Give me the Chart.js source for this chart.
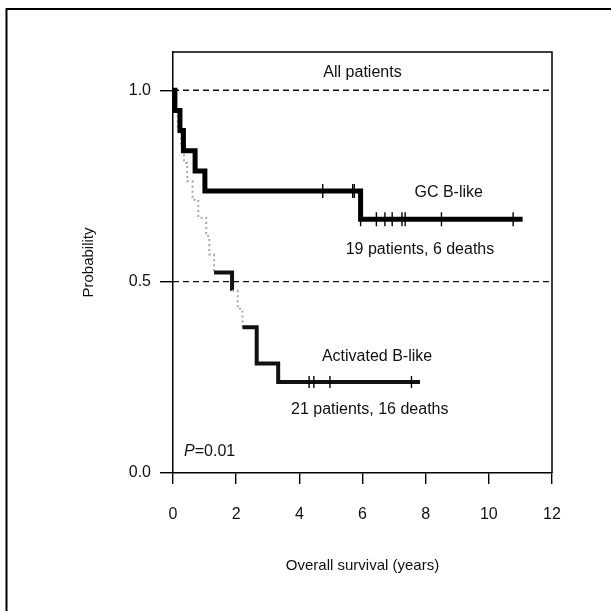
<!DOCTYPE html>
<html>
<head>
<meta charset="utf-8">
<script src="https://cdn.jsdelivr.net/npm/chart.js@4/dist/chart.umd.min.js"></script>
<style>
  html, body { margin: 0; padding: 0; background: #fff; }
  #wrap { width: 611px; height: 611px; }
</style>
</head>
<body>
<div id="wrap"><canvas id="km"></canvas></div>
<script>
const FONT = '"Liberation Sans", Arial, Helvetica, sans-serif'

// x ticks / y ticks
const X_TICKS = [0, 2, 4, 6, 8, 10, 12]
const Y_TICKS = [0, 0.5, 1.0]

// GC B-like: step times (years) and survival after each step
const gcTimes = [0, 0.06, 0.22, 0.33, 0.70, 1.01, 5.94, 11.07]
const gcSurv = [1, 0.947, 0.895, 0.842, 0.789, 0.737, 0.663, 0.663]
const gcCensorTimes = [4.74, 5.69, 5.74, 5.94, 6.44, 6.71, 6.94, 7.25, 7.35, 8.50, 10.77]
const gcCensorSurv = [0.737, 0.737, 0.737, 0.663, 0.663, 0.663, 0.663, 0.663, 0.663, 0.663, 0.663]

// Activated B-like
const abTimes = [0, 0.08, 0.15, 0.25, 0.35, 0.45, 0.62, 0.80, 1.05, 1.15, 1.30, 1.87, 2.05, 2.20, 2.65, 3.33, 7.82]
const abSurv = [1, 0.952, 0.905, 0.857, 0.810, 0.762, 0.714, 0.667, 0.619, 0.571, 0.524, 0.476, 0.429, 0.381, 0.286, 0.238, 0.238]
const abCensorTimes = [4.31, 4.46, 4.97, 7.55]
const abCensorSurv = [0.238, 0.238, 0.238, 0.238]

// reference lines
const refLevels = [0.5, 1.0]

// text notes in data units
const notes = [
  { text: "All patients", x: 6.0, y: 1.047 },
  { text: "GC B-like", x: 8.73, y: 0.733 },
  { text: "19 patients, 6 deaths", x: 7.82, y: 0.584 },
  { text: "Activated B-like", x: 6.46, y: 0.304 },
  { text: "21 patients, 16 deaths", x: 6.23, y: 0.165 },
]
const pNote = { label: "P", value: "=0.01", x: 0.35, y: 0.055 }

const toPoints = (xs, ys) => xs.map((x, i) => ({ x: x, y: ys[i] }))

const datasets = []

refLevels.forEach(level => {
  datasets.push({
    data: [{ x: 0, y: level }, { x: 12, y: level }],
    borderColor: "#111",
    borderWidth: 1.3,
    borderDash: [6, 4],
    pointRadius: 0,
    order: 5,
  })
})

// early part of this curve is a light dotted trace in the figure
const isEarly = ctx => ctx.p0.parsed.x < 1.2 || (ctx.p0.parsed.x > 1.8 && ctx.p0.parsed.x < 2.1)

datasets.push({
  label: "Activated B-like",
  data: toPoints(abTimes, abSurv),
  stepped: "before",
  borderColor: "#111",
  borderWidth: 4,
  pointRadius: 0,
  order: 3,
  segment: {
    borderColor: ctx => (isEarly(ctx) ? "#a8a8a8" : "#111"),
    borderDash: ctx => (isEarly(ctx) ? [2, 3] : undefined),
    borderWidth: ctx => (isEarly(ctx) ? 2 : 4),
  },
})

datasets.push({
  label: "GC B-like",
  data: toPoints(gcTimes, gcSurv),
  stepped: "before",
  borderColor: "#000",
  borderWidth: 5,
  pointRadius: 0,
  order: 2,
})

datasets.push({
  data: toPoints(gcCensorTimes, gcCensorSurv),
  showLine: false,
  pointStyle: "line",
  rotation: 90,
  pointRadius: 7,
  pointBorderWidth: 1.4,
  pointBorderColor: "#000",
  order: 1,
})

datasets.push({
  data: toPoints(abCensorTimes, abCensorSurv),
  showLine: false,
  pointStyle: "line",
  rotation: 90,
  pointRadius: 6,
  pointBorderWidth: 1.4,
  pointBorderColor: "#000",
  order: 1,
})

const framePlugin = {
  id: "frame",
  beforeDraw(chart) {
    const ctx = chart.ctx
    ctx.save()
    ctx.fillStyle = "#fff"
    ctx.fillRect(0, 0, chart.width, chart.height)
    ctx.strokeStyle = "#000"
    ctx.lineWidth = 2
    ctx.beginPath()
    ctx.moveTo(6.5, chart.height)
    ctx.lineTo(6.5, 9)
    ctx.lineTo(chart.width, 9)
    ctx.stroke()
    ctx.restore()
  },
  afterDraw(chart) {
    const ctx = chart.ctx
    const a = chart.chartArea
    const xs = chart.scales.x
    const ys = chart.scales.y
    ctx.save()
    ctx.strokeStyle = "#000"
    ctx.lineWidth = 1.5
    ctx.beginPath()
    ctx.moveTo(a.left, a.top)
    ctx.lineTo(a.right, a.top)
    ctx.lineTo(a.right, a.bottom)
    ctx.stroke()

    ctx.fillStyle = "#111"
    ctx.font = "16px " + FONT
    ctx.textAlign = "center"
    ctx.textBaseline = "middle"
    notes.forEach(n => {
      ctx.fillText(n.text, xs.getPixelForValue(n.x), ys.getPixelForValue(n.y))
    })

    // P value with italic P
    let px = xs.getPixelForValue(pNote.x)
    const py = ys.getPixelForValue(pNote.y)
    ctx.textAlign = "left"
    ctx.font = "italic 16px " + FONT
    ctx.fillText(pNote.label, px, py)
    px += ctx.measureText(pNote.label).width
    ctx.font = "16px " + FONT
    ctx.fillText(pNote.value, px, py)
    ctx.restore()
  },
}

new Chart(document.getElementById("km"), {
  type: "line",
  data: { datasets: datasets },
  plugins: [framePlugin],
  options: {
    responsive: true,
    maintainAspectRatio: false,
    animation: false,
    layout: { padding: { left: 0, top: 52, right: 59, bottom: 36 } },
    plugins: {
      legend: { display: false },
      tooltip: { enabled: false },
    },
    scales: {
      x: {
        type: "linear",
        min: 0,
        max: 12,
        afterFit: scale => {
          scale.height = 102
        },
        afterBuildTicks: scale => {
          scale.ticks = X_TICKS.map(v => ({ value: v }))
        },
        grid: {
          drawOnChartArea: false,
          drawTicks: true,
          tickLength: 11,
          color: "#000",
          lineWidth: 1.4,
        },
        border: { display: true, color: "#000", width: 1.5 },
        ticks: {
          color: "#111",
          font: { family: FONT, size: 16 },
          padding: 21,
          maxRotation: 0,
        },
        title: {
          display: true,
          text: "Overall survival (years)",
          color: "#111",
          font: { family: FONT, size: 15 },
          padding: { top: 0, bottom: 0 },
        },
      },
      y: {
        type: "linear",
        min: 0,
        max: 1.1,
        afterFit: scale => {
          scale.width = 173
        },
        afterBuildTicks: scale => {
          scale.ticks = Y_TICKS.map(v => ({ value: v }))
        },
        grid: {
          drawOnChartArea: false,
          drawTicks: true,
          tickLength: 13,
          color: "#000",
          lineWidth: 1.4,
        },
        border: { display: true, color: "#000", width: 1.5 },
        ticks: {
          color: "#111",
          font: { family: FONT, size: 16 },
          padding: 9,
          callback: v => Number(v).toFixed(1),
        },
        title: {
          display: true,
          text: "Probability",
          color: "#111",
          font: { family: FONT, size: 15 },
          padding: { top: 80, bottom: 0 },
        },
      },
    },
  },
})
</script>
</body>
</html>
